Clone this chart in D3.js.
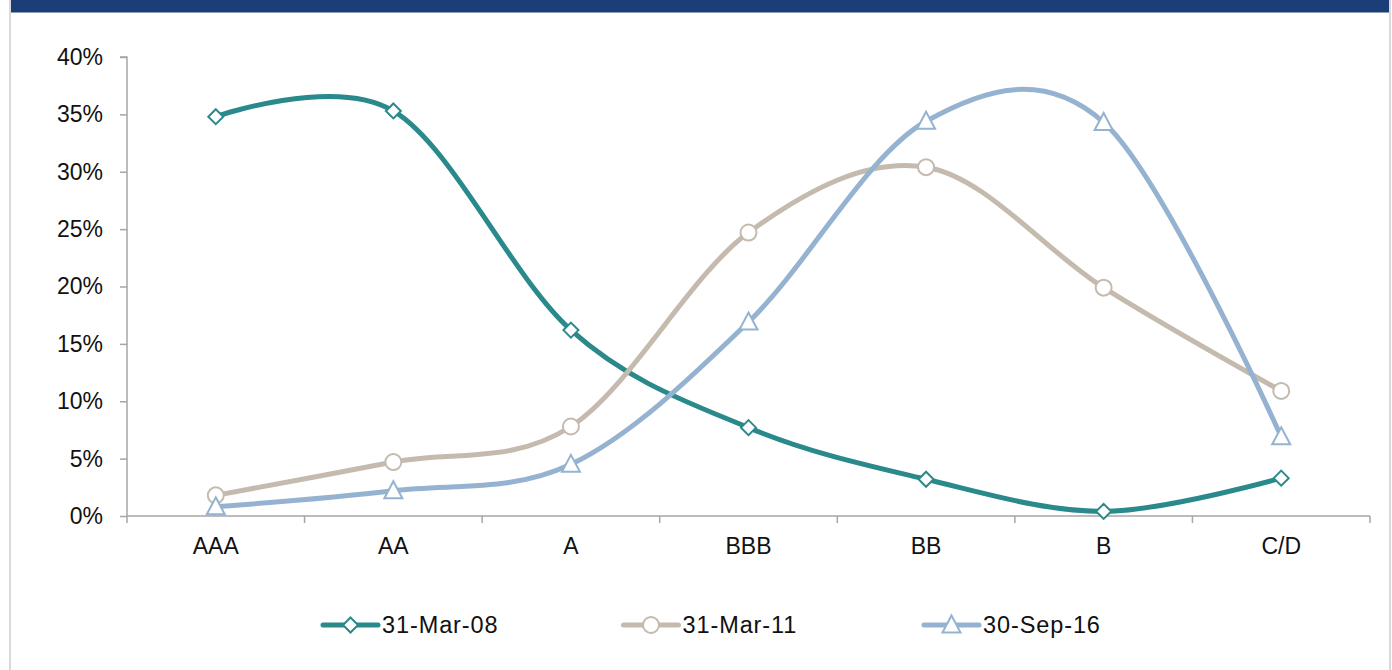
<!DOCTYPE html>
<html>
<head>
<meta charset="utf-8">
<script src="https://cdn.jsdelivr.net/npm/d3@7"></script>
<style>
  html, body { margin: 0; padding: 0; background: #fff; }
  svg { display: block; }
</style>
</head>
<body>
<svg id="chart" width="1392" height="670"></svg>
<script>
const categories = ["AAA", "AA", "A", "BBB", "BB", "B", "C/D"];
const seriesNames = ["31-Mar-08", "31-Mar-11", "30-Sep-16"];
const values2008 = [34.8, 35.3, 16.2, 7.7, 3.2, 0.4, 3.3];
const values2011 = [1.8, 4.7, 7.8, 24.7, 30.4, 19.9, 10.9];
const values2016 = [0.8, 2.2, 4.5, 16.9, 34.4, 34.3, 6.9];
const yTicks = [0, 5, 10, 15, 20, 25, 30, 35, 40];

(function () {
const series = [
  { name: seriesNames[0], values: values2008, color: "#2A898B", marker: "diamond" },
  { name: seriesNames[1], values: values2011, color: "#C4BAAD", marker: "circle" },
  { name: seriesNames[2], values: values2016, color: "#95B3D0", marker: "triangle" }
];

const svg = d3.select("#chart");
const W = 1392, H = 670;

// frame
svg.append("rect").attr("x", 11).attr("y", 0).attr("width", 1378).attr("height", 12.5).attr("fill", "#1B3D78");
svg.append("line").attr("x1", 10).attr("x2", 10).attr("y1", 0).attr("y2", H).attr("stroke", "#D9D9D9").attr("stroke-width", 2);
svg.append("line").attr("x1", 1390).attr("x2", 1390).attr("y1", 0).attr("y2", H).attr("stroke", "#D9D9D9").attr("stroke-width", 2);

const mLeft = 127, mRight = 1370, mTop = 57, mBottom = 516;
const x = d3.scaleBand().domain(categories).range([mLeft, mRight]).padding(0);
const y = d3.scaleLinear().domain([0, 40]).range([mBottom, mTop]);
const font = "'Liberation Sans', Arial, sans-serif";
const axisColor = "#A6A6A6";

// y axis
const yAxis = svg.append("g").attr("transform", `translate(${mLeft},0)`)
  .call(d3.axisLeft(y).tickValues(yTicks).tickFormat(d => d + "%").tickSize(7).tickPadding(17));
yAxis.select(".domain").attr("stroke", axisColor).attr("stroke-width", 1.5).attr("d", `M-7,${mTop}H0V${mBottom}`);
yAxis.selectAll(".tick line").attr("stroke", axisColor).attr("stroke-width", 1.5);
yAxis.selectAll(".tick text").attr("font-family", font).attr("font-size", 23).attr("fill", "#111");

// x axis
const xAxis = svg.append("g").attr("transform", `translate(0,${mBottom})`)
  .call(d3.axisBottom(x).tickSize(0).tickPadding(22));
xAxis.select(".domain").attr("stroke", axisColor).attr("stroke-width", 1.5).attr("d", `M${mLeft},0H${mRight}`);
xAxis.selectAll(".tick text").attr("font-family", font).attr("font-size", 23).attr("fill", "#111");
const boundaries = categories.map(c => x(c)).concat([x(categories[categories.length - 1]) + x.bandwidth()]);
xAxis.selectAll(".bnd").data(boundaries).enter().append("line")
  .attr("x1", d => d).attr("x2", d => d).attr("y1", 0).attr("y2", 7)
  .attr("stroke", axisColor).attr("stroke-width", 1.5);

const cx = c => x(c) + x.bandwidth() / 2;
const line = d3.line().x((d, i) => cx(categories[i])).y(d => y(d)).curve(d3.curveCardinal.tension(0));

function drawMarker(g, type, color, px, py) {
  if (type === "diamond") {
    g.append("path").attr("d", `M${px},${py - 7.5}L${px + 7.5},${py}L${px},${py + 7.5}L${px - 7.5},${py}Z`)
      .attr("fill", "#fff").attr("stroke", color).attr("stroke-width", 2);
  } else if (type === "circle") {
    g.append("circle").attr("cx", px).attr("cy", py).attr("r", 8)
      .attr("fill", "#fff").attr("stroke", color).attr("stroke-width", 2);
  } else {
    g.append("path").attr("d", `M${px},${py - 9.5}L${px + 9},${py + 7.5}L${px - 9},${py + 7.5}Z`)
      .attr("fill", "#fff").attr("stroke", color).attr("stroke-width", 2);
  }
}

series.forEach(s => {
  const g = svg.append("g");
  g.append("path").datum(s.values).attr("d", line)
    .attr("fill", "none").attr("stroke", s.color).attr("stroke-width", 5).attr("stroke-linecap", "round");
  s.values.forEach((v, i) => drawMarker(g, s.marker, s.color, cx(categories[i]), y(v)));
});

// legend
const legendX = d3.scalePoint().domain(seriesNames).range([323, 924]);
const legendY = 625;
series.forEach(s => {
  const lx = legendX(s.name);
  const g = svg.append("g");
  g.append("line").attr("x1", lx).attr("x2", lx + 55).attr("y1", legendY).attr("y2", legendY)
    .attr("stroke", s.color).attr("stroke-width", 5).attr("stroke-linecap", "round");
  drawMarker(g, s.marker, s.color, lx + 27.5, legendY);
  g.append("text").attr("x", lx + 59).attr("y", legendY + 8)
    .attr("font-family", font).attr("font-size", 23.5).attr("letter-spacing", 0.9).attr("fill", "#111")
    .text(s.name);
});
})();
</script>
</body>
</html>
